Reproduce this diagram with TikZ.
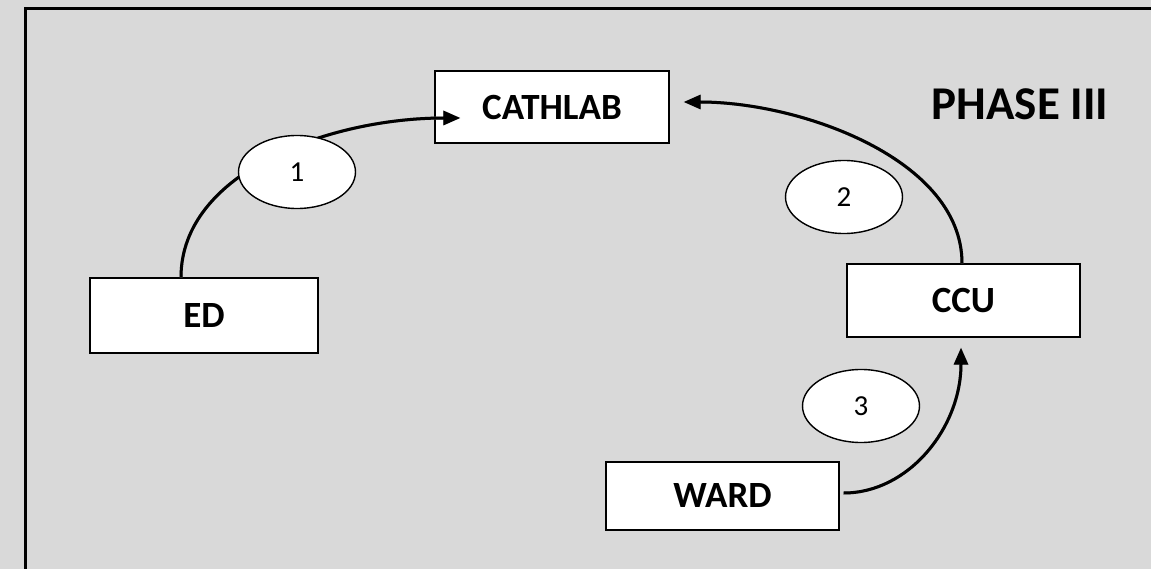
\documentclass[tikz,border=0pt]{standalone}
\usepackage{fontspec}
\setmainfont{Carlito}
\usetikzlibrary{arrows.meta,shapes.geometric}
\definecolor{bgcol}{HTML}{D9D9D9}
\definecolor{shadowcol}{HTML}{8C8C8C}
\tikzset{
  boxnode/.style={draw=black, fill=white, line width=1.4pt, inner sep=0pt,
    font=\fontsize{37}{42}\selectfont\bfseries},
  numnode/.style={ellipse, draw=black, fill=white, line width=1.4pt, inner sep=0pt,
    minimum width=117pt, minimum height=73pt, font=\fontsize{29}{33}\selectfont},
  flow/.style={line width=3pt, black, -{Triangle[length=17pt,width=14pt]}},
  flowshadow/.style={line width=3pt, shadowcol, -{Triangle[length=17pt,width=14pt]}, shift={(2,3)}}
}
\begin{document}
\begin{tikzpicture}[x=1pt,y=-1pt]
\useasboundingbox (0,0) rectangle (1151,569);
\fill[bgcol] (0,0) rectangle (1151,569);
\draw[line width=3pt, black] (25,569) -- (25,9) -- (1151,9);

\node[boxnode, minimum width=234pt, minimum height=72pt] (cath) at (552,107) {CATHLAB};
\node[boxnode, minimum width=228pt, minimum height=75pt] (ed) at (204,315.5) {ED};
\node[boxnode, minimum width=233pt, minimum height=73pt] (ccu) at (963.5,300.5) {CCU};
\node[boxnode, minimum width=233pt, minimum height=68pt] (ward) at (722.5,496) {WARD};
\node[font=\fontsize{47}{52}\selectfont\bfseries] (phase) at (1020,104) {PHASE III};

% shadows
\draw[flowshadow] ([xshift=-23pt]ed.north) .. controls +(0,-105) and +(-131,0) .. ([shift={(26,11)}]cath.west);
\draw[flowshadow] ([xshift=-1.5pt]ccu.north) .. controls +(0,-104) and +(117,0) .. ([shift={(14,-5)}]cath.east);
\draw[flowshadow] ([shift={(4,-3)}]ward.east) .. controls +(65,0) and +(0,80) .. ([shift={(-2.5,10)}]ccu.south);

% arrows
\draw[flow] ([xshift=-23pt]ed.north) .. controls +(0,-105) and +(-131,0) .. ([shift={(26,11)}]cath.west);
\draw[flow] ([xshift=-1.5pt]ccu.north) .. controls +(0,-104) and +(117,0) .. ([shift={(14,-5)}]cath.east);
\draw[flow] ([shift={(4,-3)}]ward.east) .. controls +(65,0) and +(0,80) .. ([shift={(-2.5,10)}]ccu.south);

\node[numnode] (n1) at (297,172) {1};
\node[numnode] (n2) at (844,197) {2};
\node[numnode] (n3) at (861,406) {3};
\end{tikzpicture}
\end{document}
